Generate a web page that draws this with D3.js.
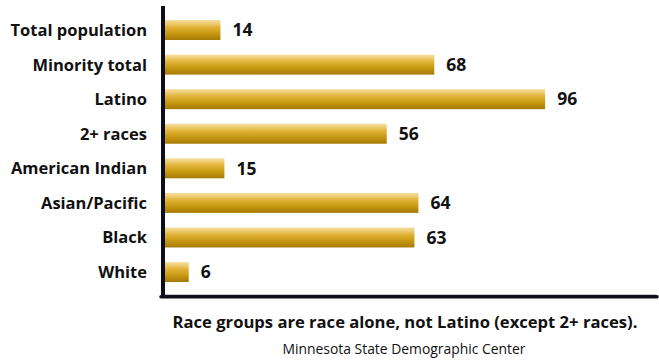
<!DOCTYPE html>
<html>
<head>
<meta charset="utf-8">
<script src="https://cdn.jsdelivr.net/npm/d3@7"></script>
<style>
  html, body { margin: 0; padding: 0; background: #fff; }
  svg { display: block; }
  text { font-family: "Open Sans", "Noto Sans", sans-serif; fill: #111; }
</style>
</head>
<body>
<svg id="chart" width="659" height="360"></svg>
<script>
const categories = ["Total population", "Minority total", "Latino", "2+ races", "American Indian", "Asian/Pacific", "Black", "White"];
const values = [14, 68, 96, 56, 15, 64, 63, 6];
const footnote = "Race groups are race alone, not Latino (except 2+ races).";
const source = "Minnesota State Demographic Center";

const svg = d3.select("#chart");
const x0 = 165;
const x = d3.scaleLinear().domain([0, 125]).range([x0, 660]);
const y = d3.scaleBand().domain(categories).range([12.7, 289.3]).paddingInner(0.42).paddingOuter(0.21);

const defs = svg.append("defs");
const grad = defs.append("linearGradient").attr("id", "gold").attr("x1", 0).attr("y1", 0).attr("x2", 0).attr("y2", 1);
grad.append("stop").attr("offset", "0%").attr("stop-color", "#f6e2a6");
grad.append("stop").attr("offset", "35%").attr("stop-color", "#e2b43a");
grad.append("stop").attr("offset", "65%").attr("stop-color", "#c99a12");
grad.append("stop").attr("offset", "100%").attr("stop-color", "#a67a05");

const data = categories.map((c, i) => ({ c, v: values[i] }));

svg.append("g").selectAll("rect").data(data).join("rect")
  .attr("x", x(0))
  .attr("y", d => y(d.c))
  .attr("width", d => x(d.v) - x(0))
  .attr("height", y.bandwidth())
  .attr("fill", "url(#gold)");

svg.append("g").selectAll("text").data(data).join("text")
  .attr("x", d => x(d.v) + 12)
  .attr("y", d => y(d.c) + y.bandwidth() / 2)
  .attr("dy", "0.36em")
  .attr("font-size", 17.5)
  .attr("font-weight", "bold")
  .text(d => d.v);

// category labels via axis
const yAxis = d3.axisLeft(y).tickSize(0).tickPadding(0);
const gy = svg.append("g").attr("transform", "translate(147,0)").call(yAxis);
gy.select(".domain").remove();
gy.selectAll("text")
  .attr("font-size", 16.5)
  .attr("font-weight", "bold")
  .attr("font-family", "\"Open Sans\", sans-serif")
  .attr("fill", "#111")
  .attr("dy", "0.36em");

// thin gray shadow line
svg.append("line").attr("x1", 165).attr("x2", 656).attr("y1", 294.5).attr("y2", 294.5)
  .attr("stroke", "#c8c8cc").attr("stroke-width", 1);
// axes lines
svg.append("line").attr("x1", 163).attr("x2", 163).attr("y1", 6).attr("y2", 298)
  .attr("stroke", "#0e0e1a").attr("stroke-width", 4);
svg.append("line").attr("x1", 161).attr("x2", 657).attr("y1", 296.8).attr("y2", 296.8)
  .attr("stroke", "#0e0e1a").attr("stroke-width", 3.5).attr("stroke-linecap", "round");

svg.append("text").attr("x", 405).attr("y", 322).attr("dy", "0.36em")
  .attr("text-anchor", "middle").attr("font-size", 16.6).attr("font-weight", "bold")
  .text(footnote);
svg.append("text").attr("x", 404).attr("y", 349).attr("dy", "0.36em")
  .attr("text-anchor", "middle").attr("font-size", 13.9)
  .text(source);
</script>
</body>
</html>
